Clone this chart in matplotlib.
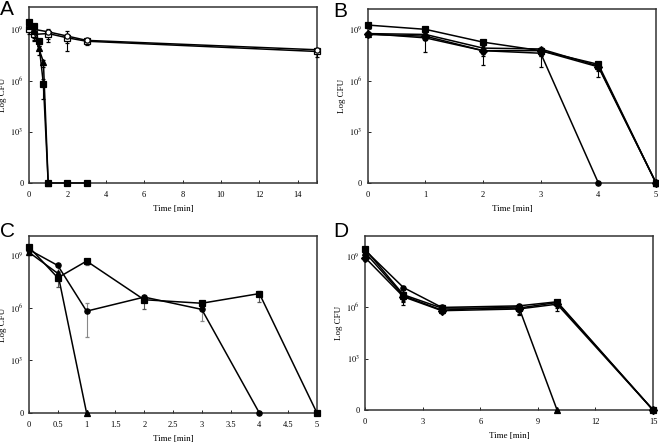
import matplotlib
matplotlib.use("Agg")
import matplotlib.pyplot as plt

plt.rcParams['font.family'] = ['Liberation Serif', 'DejaVu Serif']
plt.rcParams['mathtext.fontset'] = 'stix'

# y values are log10(CFU); 0 means no survivors
# Panel A
a_t_fast = [0, 0.25, 0.5, 0.75, 1, 2, 3]
a_sq = [9.4, 9.2, 8.3, 5.8, 0, 0, 0]
a_sq_err = [0.3, 0.2, 0.3, 0.9, 0, 0, 0]
a_t_tri = [0, 0.25, 0.5, 0.75, 1]
a_tri = [9.2, 8.9, 7.9, 7.1, 0]
a_tri_err = [0.3, 0.5, 0.4, 0.3, 0]
a_t_slow = [0, 0.25, 1, 2, 3, 15]
a_oc = [9.25, 9.0, 8.85, 8.6, 8.35, 7.8]
a_oc_err = [0.3, 0.5, 0.6, 0.9, 0.2, 0.2]
a_os = [9.0, 8.7, 8.75, 8.5, 8.3, 7.7]
a_os_err = [0.3, 0.4, 0.3, 0.3, 0.2, 0.3]

# Panel B
b_t = [0, 1, 2, 3, 4, 5]
b_sq = [9.25, 9.0, 8.25, 7.75, 6.95, 0]
b_sq_err = [0.15, 0.3, 0.2, 0.3, 0.1, 0]
b_t_ci = [0, 1, 2, 3, 4]
b_ci = [8.75, 8.5, 7.75, 7.6, 0]
b_ci_err = [0.1, 0.8, 0.2, 0.8, 0]
b_tri = [8.75, 8.7, 7.9, 7.85, 6.85, 0]
b_tri_err = [0.1, 0.2, 1.0, 0.4, 0.3, 0]
b_di = [8.7, 8.6, 7.75, 7.75, 6.8, 0]
b_di_err = [0.1, 0.2, 0.3, 0.2, 0.6, 0]

# Panel C
c_t_sq = [0, 0.5, 1, 2, 3, 4, 5]
c_sq = [9.45, 7.7, 8.65, 6.45, 6.25, 6.8, 0]
c_sq_err = [0.2, 0.55, 0.25, 0.5, 0.2, 0.5, 0]
c_t_ci = [0, 0.5, 1, 2, 3, 4]
c_ci = [9.3, 8.4, 5.8, 6.6, 5.9, 0]
c_ci_err = [0.15, 0.3, 1.5, 0.3, 0.65, 0]
c_t_tri = [0, 0.5, 1]
c_tri = [9.15, 7.95, 0]
c_tri_err = [0.15, 0.3, 0]

# Panel D
d_t = [0, 2, 4, 8, 10, 15]
d_ci = [9.33, 7.15, 5.99, 6.08, 6.32, 0]
d_ci_err = [0.2, 0.4, 0.2, 0.2, 0.1, 0]
d_sq = [9.39, 6.73, 5.95, 5.95, 6.28, 0]
d_sq_err = [0.2, 0.6, 0.1, 0.2, 0.3, 0]
d_t_tri = [0, 2, 4, 8, 10]
d_tri = [9.2, 6.67, 5.83, 6.03, 0]
d_tri_err = [0.2, 0.3, 0.1, 0.5, 0]
d_di = [8.9, 6.61, 5.8, 5.9, 6.18, 0]
d_di_err = [0.2, 0.3, 0.1, 0.3, 0.4, 0]

y_ticks = [0, 3, 6, 9]
y_labels = ['0', r'$10^{3}$', r'$10^{6}$', r'$10^{9}$']


def draw(ax, t, y, err, marker, filled=True, ecolor='black'):
    '''Draw one survival curve with (mostly downward) error bars'''
    ax.errorbar(t, y, yerr=[err, [0.3 * e for e in err]], color='black',
                marker=marker, markersize=3.8, lw=1.1,
                mfc='black' if filled else 'white', mec='black', mew=0.9,
                ecolor=ecolor, elinewidth=0.8, capsize=1.5, capthick=0.8,
                clip_on=False, zorder=3)


def style(ax, xlim, xticks, xticklabels, ytop):
    ax.set_xlim(*xlim)
    ax.set_ylim(0, ytop)
    ax.set_xticks(xticks)
    ax.set_xticklabels(xticklabels)
    ax.set_yticks(y_ticks)
    ax.set_yticklabels(y_labels)
    ax.tick_params(direction='in', length=2.5, width=0.6, labelsize=6)
    ax.tick_params(axis='x', pad=6)
    ax.tick_params(axis='y', pad=4)
    for s in ax.spines.values():
        s.set_linewidth(1.1)
        s.set_color('#333333')
    ax.set_xlabel('Time [min]', fontsize=6.5, labelpad=4)
    ax.set_ylabel('Log CFU', fontsize=6.5)
    ax.yaxis.set_label_coords(-0.075, 0.5)


fig = plt.figure(figsize=(6.59, 4.42), dpi=100)

axA = fig.add_axes([0.044, 0.586, 0.437, 0.398])
draw(axA, a_t_slow, a_os, a_os_err, 's', filled=False)
draw(axA, a_t_slow, a_oc, a_oc_err, 'o', filled=False)
draw(axA, a_t_tri, a_tri, a_tri_err, '^')
draw(axA, a_t_fast, a_sq, a_sq_err, 's')
style(axA, (0, 15), [0, 2, 4, 6, 8, 10, 12, 14, 15],
      ['0', '2', '4', '6', '8', '10', '12', '14', ''], 10.3)

axB = fig.add_axes([0.558, 0.586, 0.4375, 0.394])
draw(axB, b_t, b_di, b_di_err, 'D')
draw(axB, b_t, b_tri, b_tri_err, '^')
draw(axB, b_t_ci, b_ci, b_ci_err, 'o')
draw(axB, b_t, b_sq, b_sq_err, 's')
style(axB, (0, 5), [0, 1, 2, 3, 4, 5], ['0', '1', '2', '3', '4', '5'], 10.2)

axC = fig.add_axes([0.044, 0.0656, 0.437, 0.4005])
draw(axC, c_t_tri, c_tri, c_tri_err, '^')
draw(axC, c_t_ci, c_ci, c_ci_err, 'o', ecolor='#888888')
draw(axC, c_t_sq, c_sq, c_sq_err, 's', ecolor='#555555')
cticks = [0, 0.5, 1, 1.5, 2, 2.5, 3, 3.5, 4, 4.5, 5]
style(axC, (0, 5), cticks, ['%g' % v for v in cticks], 10.08)

axD = fig.add_axes([0.554, 0.0724, 0.437, 0.394])
draw(axD, d_t, d_di, d_di_err, 'D')
draw(axD, d_t_tri, d_tri, d_tri_err, '^')
draw(axD, d_t, d_ci, d_ci_err, 'o')
draw(axD, d_t, d_sq, d_sq_err, 's')
style(axD, (0, 15), [0, 3, 6, 9, 12, 15], ['0', '3', '6', '9', '12', '15'],
      10.17)

# panel letters
for x, y, s in [(0.0, 1.0, 'A'), (0.505, 0.995, 'B'),
                (0.0, 0.497, 'C'), (0.505, 0.497, 'D')]:
    fig.text(x, y, s, fontsize=15, family='Liberation Sans', va='top',
             ha='left')

fig.savefig('out.png', dpi=100)
